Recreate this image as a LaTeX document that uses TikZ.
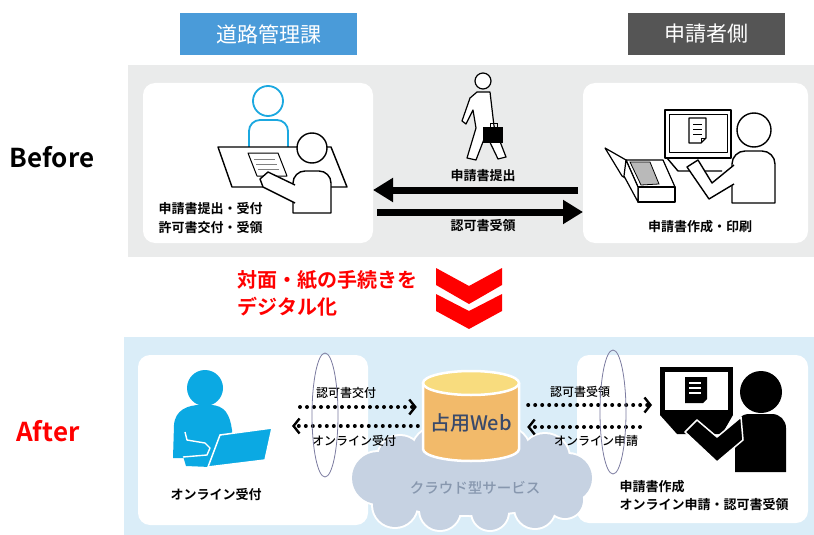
\documentclass[tikz,border=0pt]{standalone}
\usepackage{fontspec}
\setmainfont{Noto Sans CJK JP}[BoldFont={Noto Sans CJK JP Bold}]
\newfontfamily\jpmedium{Noto Sans CJK JP Medium}
\usetikzlibrary{arrows.meta}

\definecolor{roadblue}{HTML}{4A9BD9}
\definecolor{sidegray}{HTML}{555555}
\definecolor{beforebg}{HTML}{EAEBEB}
\definecolor{afterbg}{HTML}{DAEDF8}
\definecolor{staffblue}{HTML}{1BA8E0}
\definecolor{userblue}{HTML}{0BA9E3}
\definecolor{alarmred}{HTML}{FF0000}
\definecolor{cloudfill}{HTML}{C6D2E2}
\definecolor{cloudtext}{HTML}{8797AE}
\definecolor{dbtop}{HTML}{F8DC7E}
\definecolor{dbbody}{HTML}{F2BA6A}
\definecolor{dbtext}{HTML}{3A4A6A}
\definecolor{ringcol}{HTML}{7C7CA0}

\newcommand{\pxfont}[1]{\fontsize{#1pt}{#1pt}\selectfont}

\begin{document}
\begin{tikzpicture}[x=1pt,y=-1pt,
  hdr/.style={minimum width=#1,minimum height=42pt,inner sep=0pt,text=white,font=\pxfont{21}},
  panel/.style={fill=white,rounded corners=12pt,inner sep=0pt,outer sep=0pt,anchor=north west},
  fig/.style={draw=black,fill=white,line width=1.4pt,line join=round},
  lbl/.style={font=\pxfont{13}\bfseries},
  small/.style={font=\jpmedium\pxfont{12}},
  redmsg/.style={font=\pxfont{20}\bfseries,text=alarmred,anchor=west},
  fatarrow/.style={line width=7pt,-{Triangle[length=20pt,width=23pt]}},
  dotarrow/.style={line width=4pt,line cap=round,dash pattern=on 0pt off 7pt,
    -{Straight Barb[length=6pt,width=15pt,line width=2.4pt]}},
  ring/.style={draw=ringcol,line width=0.8pt}]
\useasboundingbox (0,0) rectangle (814,535);
\fill[white] (0,0) rectangle (814,535);

% column headers
\node[hdr=177pt,fill=roadblue] (road) at (268.5,34) {道路管理課};
\node[hdr=157pt,fill=sidegray] (side) at (706,34) {申請者側};

%% ---------- before ----------
\fill[beforebg] (128,65) rectangle (814,257);
\node[panel,minimum width=230pt,minimum height=160pt] (counter) at (143,83) {};
\node[panel,minimum width=225pt,minimum height=160pt] (homedesk) at (583,83) {};
\node[font=\pxfont{26}\bfseries] (before) at (52,157) {Before};

% clerk behind the counter
\draw[staffblue,line width=1.8pt,fill=white] (268,101) circle[radius=15];
\draw[staffblue,line width=1.8pt,fill=white,rounded corners=11pt] (249,148) -- (249,120) -- (288,120) -- (288,148);
\draw[fig] (218,147) -- (331,147) -- (347,187) -- (232,187) -- cycle;
\draw[fig,line width=1pt] (248,153) -- (278,153) -- (287,176) -- (257,176) -- cycle;
\foreach \i in {0,1,2}
  \draw[gray,line width=0.8pt] (254+\i*2,159+\i*5) -- (275+\i*2,159+\i*5);
% visitor
\draw[fig] (312,148) circle[radius=15];
\draw[fig] (293,213) [rounded corners=12pt] -- (293,171) -- (331,171) [sharp corners] -- (331,213) -- cycle;
\draw[fig] (295,185) -- (268,172) -- (260,179) -- (263,187) -- (295,203);

% walker with bag
\draw[fig,line width=1.2pt] (483,81) circle[radius=8];
\draw[fig,line width=1.2pt] (477,92) -- (490,92) -- (494,126) -- (506,157) -- (498,159) -- (486,134)
  -- (476,160) -- (467,158) -- (476,128) -- (473,110) -- (466,124) -- (462,121) -- (470,98) -- cycle;
\draw[line width=1pt] (490,127) -- (490,123) -- (497,123) -- (497,127);
\fill (483,127) rectangle (503,143);

% applicant at home
\draw[fig] (665,110) rectangle (731,158);
\draw[fig,line width=1pt] (669,114) rectangle (727,152);
\draw[fig,line width=1.2pt] (689,118) -- (706,118) -- (706,138) -- (701,143) -- (689,143) -- cycle;
\draw[line width=1pt] (701,143) -- (701,138) -- (706,138);
\foreach \y in {124,129,134}
  \draw[line width=1pt] (693,\y) -- (702,\y);
\draw[fig,fill=none] (667,158) -- (678,171) -- (722,171);
\draw[fig] (754,130) circle[radius=17];
\draw[fig] (732,203) [rounded corners=13pt] -- (732,151) -- (775,151) [sharp corners] -- (775,203) -- cycle;
\draw[fig] (734,165) -- (712,183) -- (698,160) -- (687,167) -- (709,199) -- (734,184);
% printer
\draw[fig,line width=1.2pt] (605,148) -- (626,160) -- (640,187) -- (622,176) -- cycle;
\draw[fig,line width=1.2pt] (626,160) -- (663,160) -- (675,187) -- (638,187) -- cycle;
\draw[fill=gray!55,line width=0.8pt] (630,162) -- (650,162) -- (659,184) -- (641,185) -- cycle;
\draw[fig,line width=1.2pt] (638,187) -- (675,187) -- (675,202) -- (638,202) -- cycle;
\draw[fig,line width=1.2pt] (626,160) -- (638,187) -- (638,202) -- (624,176) -- cycle;

% paper flow
\draw[fatarrow,shorten <=5pt] (homedesk.west |- 0,190) -- (counter.east |- 0,190);
\draw[fatarrow,shorten <=4pt] (counter.east |- 0,212) -- (homedesk.west |- 0,212);
\node[lbl] (submit) at (483,176) {申請書提出};
\node[lbl] (collect) at (483,226) {認可書受領};
\node[lbl,anchor=west] (counterA) at (155,209) {申請書提出・受付};
\node[lbl,anchor=west] (counterB) at (155,228) {許可書交付・受領};
\node[lbl] (print) at (700,227) {申請書作成・印刷};

%% ---------- transition ----------
\node[redmsg] (msgA) at (234,280) {対面・紙の手続きを};
\node[redmsg] (msgB) at (234,307) {デジタル化};
\fill[alarmred] (436,268) -- (469,286) -- (502,268) -- (502,285) -- (469,304) -- (436,285) -- cycle;
\fill[alarmred] (436,294) -- (469,311) -- (502,294) -- (502,311) -- (469,329) -- (436,311) -- cycle;

%% ---------- after ----------
\fill[afterbg] (124,337) rectangle (814,535);
\node[panel,minimum width=230pt,minimum height=170pt] (online) at (138,355) {};
\node[panel,minimum width=231pt,minimum height=168pt] (applicant) at (577,355) {};
\node[font=\pxfont{26}\bfseries,text=alarmred] (after) at (48,431) {After};

% cloud: white rim first, then the fill
\foreach \cx/\cy/\r in {378/478/26,400/458/22,437/452/25,505/452/25,545/458/24,568/478/24,
    395/505/22,440/510/20,490/512/18,535/508/20,565/500/18}
  \draw[white,line width=4pt] (\cx,\cy) circle[radius=\r];
\draw[white,line width=4pt] (470,485) ellipse[x radius=100,y radius=30];
\foreach \cx/\cy/\r in {378/478/26,400/458/22,437/452/25,505/452/25,545/458/24,568/478/24,
    395/505/22,440/510/20,490/512/18,535/508/20,565/500/18}
  \fill[cloudfill] (\cx,\cy) circle[radius=\r];
\fill[cloudfill] (470,485) ellipse[x radius=100,y radius=30];
\node[font=\jpmedium\pxfont{14.5},text=cloudtext] (cloud) at (475,488) {クラウド型サービス};

% database
\draw[white,line width=2.5pt,fill=dbbody] (423,383) -- (423,449) arc[start angle=180,end angle=0,x radius=48,y radius=12] -- (519,383);
\draw[white,line width=2.5pt,fill=dbtop] (471,383) ellipse[x radius=48,y radius=12];
\node[font=\jpmedium\pxfont{20},text=dbtext,minimum width=96pt,inner sep=0pt] (web) at (471,423) {占用Web};

% online exchange
\coordinate (l1) at (300,407);
\coordinate (l2) at (292,426);
\coordinate (r1) at (652,405);
\coordinate (r2) at (640,427);
\draw[dotarrow,shorten >=6pt] (l1) -- (web.west |- l1);
\draw[dotarrow,shorten <=5pt] (web.west |- l2) -- (l2);
\draw[dotarrow,shorten <=9pt] (web.east |- r1) -- (r1);
\draw[dotarrow,shorten >=8pt] (r2) -- (web.east |- r2);
\node[small] (issue) at (346,393) {認可書交付};
\node[small] (accept) at (354,441) {オンライン受付};
\node[small] (receipt) at (580,392) {認可書受領};
\node[small] (apply) at (596,441) {オンライン申請};
\draw[ring] (325,415) ellipse[x radius=13,y radius=62];
\draw[ring] (613,412) ellipse[x radius=13,y radius=62];

% clerk on laptop
\fill[userblue] (205,388) circle[radius=18];
\fill[userblue] (173,458) -- (174,425) .. controls (175,410) and (188,405) .. (200,405) -- (210,405)
  .. controls (225,405) and (230,415) .. (232,430) -- (232,458) -- cycle;
\fill[userblue] (183,456) -- (212,454) -- (210,467) -- (186,466) -- cycle;
\draw[white,line width=1.5pt,fill=userblue] (220,435) -- (272,428) -- (265,460) -- (208,467) -- cycle;
\draw[white,line width=1.4pt,line join=round] (185,432) -- (187,440) .. controls (196,441) .. (205,443)
  -- (210,448) -- (207,455) -- (183,457);
\node[lbl] (onlineLbl) at (216,495) {オンライン受付};

% applicant at PC
\fill (660,367) rectangle (733,415);
\fill[white] (665,372) rectangle (728,410);
\fill (685,377) -- (707,377) -- (707,399) -- (703,403) -- (685,403) -- cycle;
\foreach \y in {383,388,393}
  \draw[white,line width=1.3pt] (689,\y) -- (701,\y);
\fill (660,415) -- (733,415) -- (722,434) -- (677,434) -- cycle;
\fill (761,392) circle[radius=21];
\fill (735,472) [rounded corners=14pt] -- (735,414) -- (786,414) [sharp corners] -- (786,472) -- cycle;
\draw[white,line width=1.5pt,fill=black,line join=round] (741,417) -- (717,437) -- (697,420) -- (685,432)
  -- (717,462) -- (743,440) -- cycle;
\node[lbl,anchor=west] (applyA) at (616,487) {申請書作成};
\node[lbl,anchor=west] (applyB) at (616,505) {オンライン申請・認可書受領};
\end{tikzpicture}
\end{document}
